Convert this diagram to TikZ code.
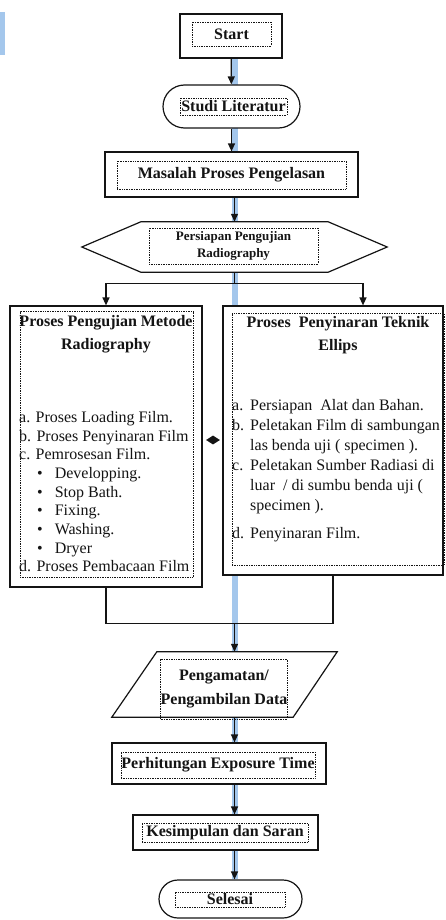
\documentclass[tikz,border=0pt]{standalone}
\usepackage{fontspec}
\setmainfont{Liberation Serif}
\usetikzlibrary{arrows.meta, positioning, shapes.geometric, shapes.misc, backgrounds}
\definecolor{inkc}{RGB}{20,20,20}
\definecolor{spinec}{RGB}{164,199,236}
\tikzset{
  rand/.style={draw=inkc, line width=1.2pt, fill=white},
  box/.style={rand, rectangle, inner sep=0pt},
  ujung/.style={rand, rounded rectangle, inner sep=0pt},
  bingkai/.style={draw=inkc, densely dotted, line width=0.7pt, inner sep=0pt,
                  font=\fontsize{16}{19}\selectfont\bfseries, text=inkc, align=center},
  judul/.style={font=\fontsize{16}{23}\selectfont\bfseries, text=inkc, align=center, inner sep=0pt},
  isi/.style={font=\fontsize{16}{18.7}\selectfont, text=inkc, align=left,
              inner sep=0pt, anchor=north west},
  arr/.style={-{Triangle[length=8pt, width=7pt]}, line width=1.3pt, draw=inkc},
  garis/.style={line width=1.2pt, draw=inkc},
  spine/.style={line width=6pt, draw=spinec},
}
\begin{document}
\begin{tikzpicture}[x=1pt, y=-1pt]
  \useasboundingbox (0,0) rectangle (446,920);
  \fill[spinec] (0,12) rectangle (5,55);

  % main column
  \node[box, minimum width=102pt, minimum height=44pt] (start) at (231,36) {};
  \node[bingkai, minimum width=79pt, minimum height=24pt] (startteks) at (231.5,34) {Start};
  \node[ujung, minimum width=137pt, minimum height=43pt] (studi) at (231.5,106.5) {};
  \node[bingkai, minimum width=107pt, minimum height=17pt] (studiteks) at (233.5,106.5) {Studi Literatur};
  \node[box, minimum width=253pt, minimum height=45pt] (masalah) at (231.5,174.5) {};
  \node[bingkai, minimum width=229pt, minimum height=28pt] (masalahteks) at (231.5,175) {Masalah Proses Pengelasan};

  % preparation hexagon
  \node[inner sep=0pt, minimum width=187pt, minimum height=50pt] (siap) at (234.5,247) {};
  \draw[rand] (siap.north west) -- (siap.north east) -- ([xshift=59pt]siap.east)
    -- (siap.south east) -- (siap.south west) -- ([xshift=-59pt]siap.west) -- cycle;
  \node[bingkai, font=\fontsize{13}{17}\selectfont\bfseries, minimum width=169pt,
        minimum height=36pt] (siapteks) at (233.5,246) {Persiapan Pengujian\\Radiography};

  % the two process boxes
  \node[box, minimum width=192pt, minimum height=281pt] (kiri) at (106,446.5) {};
  \node[bingkai, minimum width=173pt, minimum height=266pt] (kiribingkai) at (106.5,444.5) {};
  \node[judul] (kirijudul) at (106,334) {Proses Pengujian Metode\\Radiography};
  \node[isi] (kiriisi) at (19,411) {a. Proses Loading Film.\\
    b. Proses Penyinaran Film\\
    c. Pemrosesan Film.\\
    \hspace*{18pt}\textbullet\hspace{12pt}Developping.\\
    \hspace*{18pt}\textbullet\hspace{12pt}Stop Bath.\\
    \hspace*{18pt}\textbullet\hspace{12pt}Fixing.\\
    \hspace*{18pt}\textbullet\hspace{12pt}Washing.\\
    \hspace*{18pt}\textbullet\hspace{12pt}Dryer\\
    d. Proses Pembacaan Film};

  \node[box, minimum width=220pt, minimum height=269pt] (kanan) at (333,440.5) {};
  \node[bingkai, minimum width=212pt, minimum height=252pt] (kananbingkai) at (338,439) {};
  \node[judul] (kananjudul) at (338,335) {Proses~~Penyinaran Teknik\\Ellips};
  \node[isi, font=\fontsize{16}{20}\selectfont] (kananisi) at (232,399) {%
    \makebox[18pt][l]{a.}Persiapan~~Alat dan Bahan.\\
    \makebox[18pt][l]{b.}Peletakan Film di sambungan\\
    \hspace*{18pt}las benda uji ( specimen ).\\
    \makebox[18pt][l]{c.}Peletakan Sumber Radiasi di\\
    \hspace*{18pt}luar~~/ di sumbu benda uji (\\
    \hspace*{18pt}specimen ).\\[8pt]
    \makebox[18pt][l]{d.}Penyinaran Film.};

  \node[diamond, fill=inkc, inner sep=0pt, minimum width=14pt, minimum height=9pt] (sambung) at (213,440) {};

  % lower column
  \node[inner sep=0pt, minimum width=225pt, minimum height=65pt] (data) at (224.5,684.5) {};
  \draw[rand] ([xshift=45pt]data.north west) -- (data.north east)
    -- ([xshift=-44pt]data.south east) -- (data.south west) -- cycle;
  \node[bingkai, font=\fontsize{16}{24}\selectfont\bfseries, minimum width=124pt,
        minimum height=60pt] (datateks) at (224,689) {Pengamatan/\\Pengambilan Data};
  \node[box, minimum width=214pt, minimum height=41pt] (hitung) at (219,763.5) {};
  \node[bingkai, minimum width=194pt, minimum height=26pt] (hitungteks) at (218,765) {Perhitungan Exposure Time};
  \node[box, minimum width=185pt, minimum height=35pt] (simpul) at (225.5,832.5) {};
  \node[bingkai, minimum width=166pt, minimum height=19pt] (simpulteks) at (225,832.5) {Kesimpulan dan Saran};
  \node[ujung, minimum width=143pt, minimum height=38pt] (selesai) at (230.5,899) {};
  \node[bingkai, minimum width=110pt, minimum height=15pt] (selesaiteks) at (230,899.5) {Selesai};

  % connectors
  \draw[arr] (start) -- (studi);
  \draw[arr] (studi) -- (masalah);
  \draw[arr] (masalah.south -| siap.north) -- (siap.north);
  \draw[garis] (siap.south) -- ++(0,11) coordinate (cabang);
  \draw[arr] (cabang) -| (kiri.north);
  \draw[arr] (cabang) -| ([xshift=30pt]kanan.north);
  \draw[garis] (kiri.south) -- ++(0,36) coordinate (gabung) -| (kanan.south);
  \draw[arr] (gabung -| siap.south) -- (data.north -| siap.south);
  \draw[arr] (data.south -| siap.south) -- (hitung.north -| siap.south);
  \draw[arr] (hitung.south -| siap.south) -- (simpul.north -| siap.south);
  \draw[arr] (simpul.south -| siap.south) -- (selesai.north -| siap.south);

  \begin{scope}[on background layer]
    \draw[spine] (start.south -| siap.south) -- (selesai.north -| siap.south);
  \end{scope}
\end{tikzpicture}
\end{document}
